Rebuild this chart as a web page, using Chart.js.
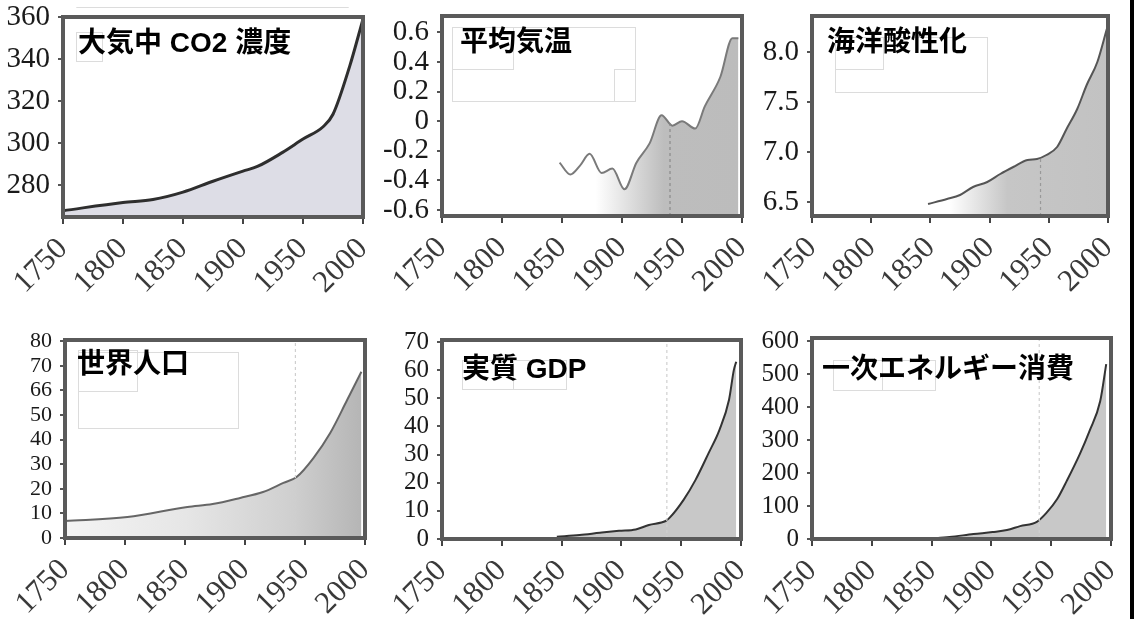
<!DOCTYPE html>
<html lang="ja">
<head>
<meta charset="utf-8">
<script src="https://cdn.jsdelivr.net/npm/chart.js@4.4.1/dist/chart.umd.min.js"></script>
<style>
  html, body { margin: 0; padding: 0; background: #fff; }
  body { position: relative; width: 1140px; height: 619px; overflow: hidden; }
  canvas { position: absolute; }
  #edge { position: absolute; left: 1130px; top: 0; width: 4px; height: 619px; background: #000; }
</style>
</head>
<body>
<canvas id="co2"></canvas>
<canvas id="temp"></canvas>
<canvas id="ocean"></canvas>
<canvas id="pop"></canvas>
<canvas id="gdp"></canvas>
<canvas id="energy"></canvas>
<div id="edge"></div>
<script>
// ---- shared axis ----
const yearTicks = [1750, 1800, 1850, 1900, 1950, 2000];

// ---- 大気中 CO2 濃度 (ppm) ----
const co2Years  = [1750, 1800, 1825, 1850, 1875, 1900, 1912, 1933, 1950, 1967, 1975, 1989, 2000];
const co2Values = [268, 271.9, 273.3, 276.8, 282, 286.8, 289, 295.7, 302, 308, 313.8, 336.8, 359];
const co2Ticks  = [280, 300, 320, 340, 360];
const co2Labels = ['280', '300', '320', '340', '360'];

// ---- 平均気温 (偏差 °C) ----
const tempYears  = [1848, 1857, 1865, 1873, 1883, 1892, 1902, 1912, 1923, 1933, 1942, 1950, 1961, 1969, 1982, 1992, 1997];
const tempValues = [-0.28, -0.36, -0.30, -0.22, -0.35, -0.32, -0.46, -0.28, -0.15, 0.04, -0.03, 0.0, -0.05, 0.10, 0.30, 0.56, 0.56];
const tempTicks  = [-0.6, -0.4, -0.2, 0, 0.2, 0.4, 0.6];
const tempLabels = ['-0.6', '-0.4', '-0.2', '0', '0.2', '0.4', '0.6'];

// ---- 海洋酸性化 ----
const oceanYears  = [1848, 1864, 1875, 1886, 1898, 1909, 1920, 1932, 1940, 1948, 1957, 1965, 1974, 1982, 1991, 1999];
const oceanValues = [6.48, 6.53, 6.57, 6.65, 6.70, 6.78, 6.85, 6.92, 6.93, 6.97, 7.05, 7.23, 7.43, 7.67, 7.90, 8.23];
const oceanTicks  = [6.5, 7.0, 7.5, 8.0];
const oceanLabels = ['6.5', '7.0', '7.5', '8.0'];

// ---- 世界人口 ----
const popYears  = [1750, 1802, 1852, 1873, 1896, 1915, 1932, 1943, 1957, 1971, 1985, 1997];
const popValues = [6.9, 8.5, 12.6, 13.8, 16.3, 18.7, 22.4, 24.8, 32.5, 42.7, 56, 67.6];
const popTicks  = [0, 10, 20, 30, 40, 50, 60, 70, 80];
const popLabels = ['0', '10', '20', '30', '40', '50', '66', '70', '80'];

// ---- 実質 GDP ----
const gdpYears  = [1846, 1865, 1882, 1898, 1912, 1923, 1937, 1940, 1952, 1962, 1973, 1982, 1990, 1994, 1996];
const gdpValues = [0.8, 1.4, 2.2, 2.9, 3.4, 5, 6.4, 7.4, 13.9, 21, 30.6, 38.8, 49.5, 60, 63];
const gdpTicks  = [0, 10, 20, 30, 40, 50, 60, 70];
const gdpLabels = ['0', '10', '20', '30', '40', '50', '60', '70'];

// ---- 一次エネルギー消費 ----
const energyYears  = [1848, 1865, 1885, 1901, 1913, 1924, 1938, 1946, 1955, 1963, 1974, 1982, 1991, 1996];
const energyValues = [1, 6, 15, 21, 27, 39, 52, 79, 121, 176, 258, 327, 418, 530];
const energyTicks  = [0, 100, 200, 300, 400, 500, 600];
const energyLabels = ['0', '100', '200', '300', '400', '500', '600'];

const AXIS_W = 62;   // reserved width of the value axis
const AXIS_H = 90;   // reserved height of the year axis
const PAD_T = 16, PAD_R = 22;

// horizontal gradient keyed on years, resolved through the x scale
function yearGradient(stops) {
  return (ctx) => {
    const chart = ctx.chart;
    const area = chart.chartArea;
    if (!area) return stops[stops.length - 1][1];
    const xs = chart.scales.x;
    const x0 = xs.getPixelForValue(xs.min), x1 = xs.getPixelForValue(xs.max);
    const g = chart.ctx.createLinearGradient(x0, 0, x1, 0);
    for (const [yr, c] of stops) {
      g.addColorStop(Math.min(1, Math.max(0, (yr - xs.min) / (xs.max - xs.min))), c);
    }
    return g;
  };
}

// frame, faint legend outlines, dashed year marker and panel title
const panelDecor = {
  id: 'panelDecor',
  afterDatasetsDraw(chart, args, opts) {
    const { ctx, chartArea: a } = chart;
    ctx.save();
    // faint empty legend outlines (offsets from the plot corner)
    ctx.strokeStyle = '#dcdcdc';
    ctx.lineWidth = 1;
    for (const [x, y, w, h] of (opts.ghosts || [])) {
      ctx.strokeRect(a.left + x + 0.5, a.top + y + 0.5, w, h);
    }
    if (opts.markerYear != null) {
      const x = chart.scales.x.getPixelForValue(opts.markerYear);
      let yTop = a.top;
      if (opts.markerToLine) {
        const pts = chart.getDatasetMeta(0).data;
        for (let i = 1; i < pts.length; i++) {
          if (pts[i - 1].x <= x && pts[i].x >= x) {
            const t = (x - pts[i - 1].x) / ((pts[i].x - pts[i - 1].x) || 1);
            yTop = pts[i - 1].y + t * (pts[i].y - pts[i - 1].y);
            break;
          }
        }
      }
      ctx.strokeStyle = opts.markerColor;
      ctx.lineWidth = 1.2;
      ctx.setLineDash([3, 3]);
      ctx.beginPath();
      ctx.moveTo(x, a.bottom);
      ctx.lineTo(x, yTop);
      ctx.stroke();
      ctx.setLineDash([]);
    }
    ctx.strokeStyle = '#5a5a5a';
    ctx.lineWidth = 4;
    ctx.strokeRect(a.left, a.top, a.right - a.left, a.bottom - a.top);
    ctx.fillStyle = '#000';
    ctx.font = 'bold 28px "Liberation Sans", "Noto Sans CJK JP", sans-serif';
    ctx.textBaseline = 'middle';
    ctx.textAlign = 'left';
    ctx.fillText(opts.title, a.left + opts.dx, a.top + opts.dy);
    ctx.restore();
  }
};

function makePanel(id, box, cfg) {
  const el = document.getElementById(id);
  const w = (box.R - box.L) + AXIS_W + PAD_R;
  const h = (box.B - box.T) + PAD_T + AXIS_H;
  el.width = w; el.height = h;
  el.style.left = (box.L - AXIS_W) + 'px';
  el.style.top = (box.T - PAD_T) + 'px';
  el.style.width = w + 'px'; el.style.height = h + 'px';

  return new Chart(el, {
    type: 'line',
    data: {
      datasets: [{
        data: cfg.years.map((x, i) => ({ x, y: cfg.values[i] })),
        borderColor: cfg.lineColor,
        borderWidth: cfg.lineWidth,
        backgroundColor: cfg.fill,
        fill: 'start',
        pointRadius: 0,
        tension: 0.25,
        cubicInterpolationMode: 'monotone'
      }]
    },
    options: {
      responsive: false,
      animation: false,
      devicePixelRatio: 1,
      layout: { padding: { left: 0, top: PAD_T, right: PAD_R, bottom: 0 } },
      plugins: {
        legend: { display: false },
        tooltip: { enabled: false },
        panelDecor: {
          title: cfg.title, dx: cfg.titleDx, dy: cfg.titleDy, ghosts: cfg.ghosts,
          markerYear: cfg.markerYear, markerToLine: cfg.markerToLine,
          markerColor: cfg.markerColor || '#999'
        }
      },
      scales: {
        x: {
          type: 'linear', min: 1750, max: 2000,
          afterBuildTicks: (s) => { s.ticks = yearTicks.map(v => ({ value: v })); },
          afterFit: (s) => { s.height = AXIS_H; s.paddingLeft = 0; s.paddingRight = 0; },
          grid: { drawOnChartArea: false, drawTicks: true, tickLength: 7, color: '#444', lineWidth: 2 },
          border: { display: false },
          ticks: {
            maxRotation: 45, minRotation: 45, padding: 7, autoSkip: false,
            color: '#3a3a3a',
            font: { family: '"Liberation Serif", serif', size: 31 },
            callback: (v) => String(v)
          }
        },
        y: {
          type: 'linear', min: cfg.yMin, max: cfg.yMax,
          afterBuildTicks: (s) => { s.ticks = cfg.ticks.map(v => ({ value: v })); },
          afterFit: (s) => { s.width = AXIS_W; s.paddingTop = 0; s.paddingBottom = 0; },
          grid: { drawOnChartArea: false, drawTicks: true, tickLength: 5, color: '#555', lineWidth: 2 },
          border: { display: false },
          ticks: {
            padding: 8, autoSkip: false, color: '#1a1a1a',
            font: { family: '"Liberation Serif", serif', size: cfg.tickSize },
            callback: (v, i) => cfg.labels[i]
          }
        }
      }
    },
    plugins: [panelDecor]
  });
}

makePanel('co2', { L: 63, T: 17, R: 363, B: 217 }, {
  years: co2Years, values: co2Values, ticks: co2Ticks, labels: co2Labels,
  yMin: 265, yMax: 360, tickSize: 29,
  lineColor: '#2e2e2e', lineWidth: 3, fill: '#dddde6',
  title: '大気中 CO2 濃度', titleDx: 15, titleDy: 27,
  ghosts: [[13, -10, 272, 0], [13, 15, 26, 29]]
});

makePanel('temp', { L: 442, T: 16, R: 742, B: 216 }, {
  years: tempYears, values: tempValues, ticks: tempTicks, labels: tempLabels,
  yMin: -0.64, yMax: 0.71, tickSize: 29,
  lineColor: '#7a7a7a', lineWidth: 2,
  fill: yearGradient([[1750, '#ffffff'], [1878, '#ffffff'], [1935, '#bdbdbd'], [2000, '#bcbcbc']]),
  title: '平均気温', titleDx: 18, titleDy: 27,
  markerYear: 1940, markerToLine: true, markerColor: '#8a8a8a',
  ghosts: [[10, 11, 183, 74], [10, 11, 61, 42], [172, 53, 21, 32]]
});

makePanel('ocean', { L: 812, T: 16, R: 1108, B: 216 }, {
  years: oceanYears, values: oceanValues, ticks: oceanTicks, labels: oceanLabels,
  yMin: 6.36, yMax: 8.36, tickSize: 29,
  lineColor: '#555555', lineWidth: 2,
  fill: yearGradient([[1750, '#ffffff'], [1866, '#ffffff'], [1915, '#c6c6c6'], [2000, '#c2c2c2']]),
  title: '海洋酸性化', titleDx: 15, titleDy: 27,
  markerYear: 1943, markerToLine: true, markerColor: '#999',
  ghosts: [[23, 21, 152, 55], [23, 21, 48, 32]]
});

makePanel('pop', { L: 65, T: 340, R: 365, B: 538 }, {
  years: popYears, values: popValues, ticks: popTicks, labels: popLabels,
  yMin: 0, yMax: 80.5, tickSize: 22,
  lineColor: '#666666', lineWidth: 2,
  fill: yearGradient([[1750, '#f4f4f4'], [1850, '#e6e6e6'], [1940, '#cfcfcf'], [2000, '#b4b4b4']]),
  title: '世界人口', titleDx: 12, titleDy: 25,
  markerYear: 1942, markerToLine: false, markerColor: '#cfcfcf',
  ghosts: [[13, 12, 160, 76], [13, 10, 59, 41]]
});

makePanel('gdp', { L: 442, T: 340, R: 741, B: 539 }, {
  years: gdpYears, values: gdpValues, ticks: gdpTicks, labels: gdpLabels,
  yMin: 0, yMax: 70.7, tickSize: 25,
  lineColor: '#333333', lineWidth: 2, fill: '#c8c8c8',
  title: '実質 GDP', titleDx: 20, titleDy: 30,
  markerYear: 1938, markerToLine: false, markerColor: '#d0d0d0',
  ghosts: [[20, 20, 51, 29], [71, 20, 53, 29]]
});

makePanel('energy', { L: 812, T: 338, R: 1111, B: 539 }, {
  years: energyYears, values: energyValues, ticks: energyTicks, labels: energyLabels,
  yMin: 0, yMax: 609, tickSize: 25,
  lineColor: '#333333', lineWidth: 2, fill: '#c8c8c8',
  title: '一次エネルギー消費', titleDx: 10, titleDy: 32,
  markerYear: 1940, markerToLine: false, markerColor: '#d0d0d0',
  ghosts: [[21, 22, 49, 30], [70, 22, 53, 30]]
});
</script>
</body>
</html>
